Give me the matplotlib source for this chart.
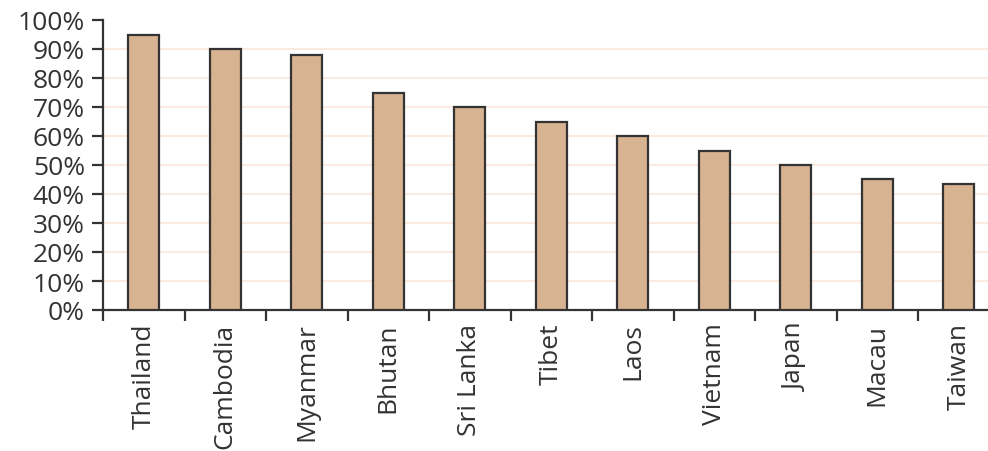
import matplotlib
matplotlib.use("Agg")
import matplotlib.pyplot as plt
import numpy as np
from matplotlib.ticker import FixedLocator

countries = ["Thailand", "Cambodia", "Myanmar", "Bhutan", "Sri Lanka", "Tibet",
             "Laos", "Vietnam", "Japan", "Macau", "Taiwan"]
values = [95, 90, 88, 75, 70, 65, 60, 55, 50, 45.2, 43.4]
yticks = list(range(0, 101, 10))
ytick_labels = [f"{v}%" for v in yticks]

plt.rcParams['font.family'] = ['Open Sans', 'DejaVu Sans']

fig = plt.figure(figsize=(9.88, 4.52), dpi=100)
W, H = 988, 452
left, right, top, bottom = 103, 999.5, 21, 311
ax = fig.add_axes([left / W, 1 - bottom / H, (right - left) / W, (bottom - top) / H])

x = np.arange(len(countries))
ax.bar(x, values, width=0.38, color="#D8B391", edgecolor="#333333", linewidth=1.6, zorder=3)

ax.set_xlim(-0.5, len(countries) - 0.5)
ax.set_ylim(0, 100)

for v in yticks[1:-1]:
    ax.axhline(v, color="#FBEADF", linewidth=1.5, zorder=1)

ax.set_yticks(yticks)
ax.set_yticklabels(ytick_labels, fontsize=19, color="#333333")
ax.tick_params(axis="y", direction="out", length=8, width=1.6, color="#333333", pad=5)

ax.set_xticks(x)
ax.set_xticklabels(countries, rotation=90, fontsize=19, color="#333333")
ax.tick_params(axis="x", which="major", length=0, pad=9)
ax.xaxis.set_minor_locator(FixedLocator(np.arange(-0.5, len(countries), 1.0)))
ax.tick_params(axis="x", which="minor", direction="out", length=8, width=1.6, color="#333333")

for s in ["top", "right"]:
    ax.spines[s].set_visible(False)
for s in ["left", "bottom"]:
    ax.spines[s].set_color("#333333")
    ax.spines[s].set_linewidth(1.6)

fig.savefig("out.png", dpi=100)
